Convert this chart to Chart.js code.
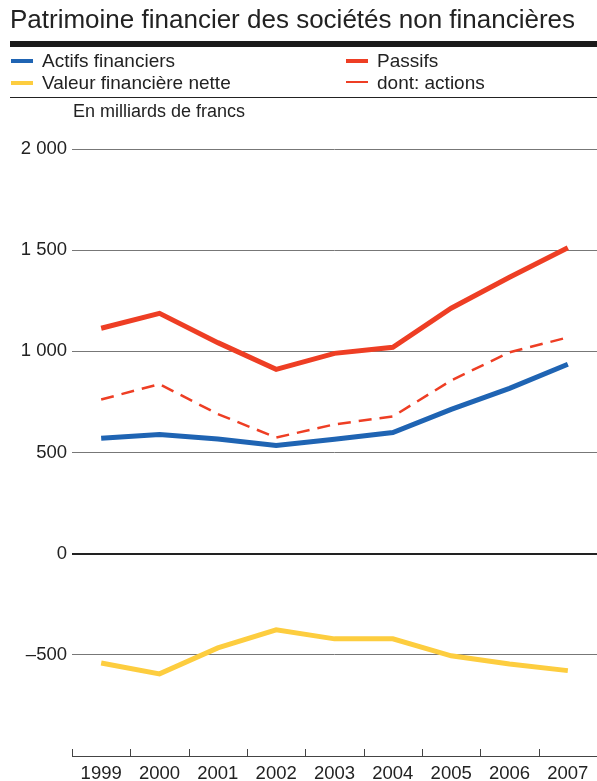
<!DOCTYPE html>
<html>
<head>
<meta charset="utf-8">
<script src="https://cdn.jsdelivr.net/npm/chart.js@4"></script>
<style>
  body { margin: 0; background: #fff; font-family: "Liberation Sans", Arial, sans-serif; color: #222; }
  #wrap { position: relative; width: 597px; height: 781px; overflow: hidden; }
  #chart { position: absolute; left: 0; top: 0; }
  .title { position: absolute; left: 10px; top: 4px; font-size: 26px; white-space: nowrap; }
  .bar { position: absolute; left: 10px; right: 0; top: 41px; height: 6px; background: #1a1a1a; }
  .sep { position: absolute; left: 10px; right: 0; top: 97px; height: 1px; background: #222; }
  .leg { position: absolute; font-size: 19px; white-space: nowrap; line-height: 20px; }
  .sw { position: absolute; width: 22px; }
  .unit { position: absolute; left: 73px; top: 101px; font-size: 18px; }
</style>
</head>
<body>
<div id="wrap">
  <canvas id="chart" width="597" height="781"></canvas>
  <div class="title">Patrimoine financier des sociétés non financières</div>
  <div class="bar"></div>
  <div class="sw" style="left:11px;top:59px;height:4px;background:#1f64b3"></div>
  <div class="leg" style="left:42px;top:51px">Actifs financiers</div>
  <div class="sw" style="left:11px;top:81px;height:4px;background:#fdcd3f"></div>
  <div class="leg" style="left:42px;top:73px">Valeur financière nette</div>
  <div class="sw" style="left:346px;top:59px;height:4px;background:#ee3e24"></div>
  <div class="leg" style="left:377px;top:51px">Passifs</div>
  <div class="sw" style="left:346px;top:81px;height:2px;background:#ee3e24"></div>
  <div class="leg" style="left:377px;top:73px">dont: actions</div>
  <div class="sep"></div>
  <div class="unit">En milliards de francs</div>
</div>
<script>
const years = ["1999", "2000", "2001", "2002", "2003", "2004", "2005", "2006", "2007"];
const actifs = [570, 589, 567, 535, 566, 599, 713, 817, 936];
const passifs = [1114, 1188, 1043, 911, 990, 1020, 1213, 1366, 1512];
const actions = [762, 838, 690, 574, 639, 678, 856, 995, 1069];
const valeurNette = [-540, -594, -466, -376, -421, -421, -505, -545, -578];
const yTicks = [-1000, -500, 0, 500, 1000, 1500, 2000];

function fmt(v) {
  if (v === -1000) return "";
  const s = String(Math.abs(v)).replace(/\B(?=(\d{3})+(?!\d))/g, " ");
  return v < 0 ? "\u2013" + s : s;
}

// short upward ticks on the x axis at the category boundaries
const upTicks = {
  id: "upTicks",
  afterDraw(chart) {
    const x = chart.scales.x;
    const ctx = chart.ctx;
    const bottom = chart.chartArea.bottom;
    const step = x.getPixelForValue(1) - x.getPixelForValue(0);
    ctx.save();
    ctx.strokeStyle = "#444";
    ctx.lineWidth = 1;
    for (let i = 0; i <= years.length; i++) {
      const px = Math.round(x.getPixelForValue(i) - step / 2) + 0.5;
      ctx.beginPath();
      ctx.moveTo(px, bottom - 7);
      ctx.lineTo(px, bottom);
      ctx.stroke();
    }
    ctx.restore();
  },
};

const ctx = document.getElementById("chart").getContext("2d");
new Chart(ctx, {
  type: "line",
  data: {
    labels: years,
    datasets: [
      { label: "Valeur financière nette", data: valeurNette, borderColor: "#fdcd3f", borderWidth: 5 },
      { label: "Actifs financiers", data: actifs, borderColor: "#1f64b3", borderWidth: 5 },
      { label: "dont: actions", data: actions, borderColor: "#ee3e24", borderWidth: 2.5, borderDash: [13, 8] },
      { label: "Passifs", data: passifs, borderColor: "#ee3e24", borderWidth: 5 },
    ],
  },
  options: {
    responsive: false,
    animation: false,
    layout: { padding: { top: 149, right: 0, left: 0, bottom: 0 } },
    elements: { point: { radius: 0 }, line: { tension: 0, borderCapStyle: "butt", borderJoinStyle: "miter" } },
    plugins: { legend: { display: false }, tooltip: { enabled: false } },
    scales: {
      x: {
        offset: true,
        grid: { display: false, drawTicks: false },
        border: { display: true, color: "#444", width: 1 },
        ticks: { color: "#222", font: { family: "Liberation Sans", size: 18.5 }, padding: 7, maxRotation: 0 },
        afterFit: (s) => { s.height = 25; },
      },
      y: {
        min: -1000,
        max: 2000,
        afterBuildTicks: (s) => { s.ticks = yTicks.map((v) => ({ value: v })); },
        grid: {
          drawTicks: false,
          color: (c) => (c.tick.value === 0 ? "#222" : c.tick.value === -1000 ? "rgba(0,0,0,0)" : "#777"),
          lineWidth: (c) => (c.tick.value === 0 ? 2 : 1),
        },
        border: { display: false },
        ticks: { color: "#222", font: { family: "Liberation Sans", size: 18.5 }, padding: 5, callback: (v) => fmt(v) },
        afterFit: (s) => { s.width = 72; },
      },
    },
  },
  plugins: [upTicks],
});
</script>
</body>
</html>
